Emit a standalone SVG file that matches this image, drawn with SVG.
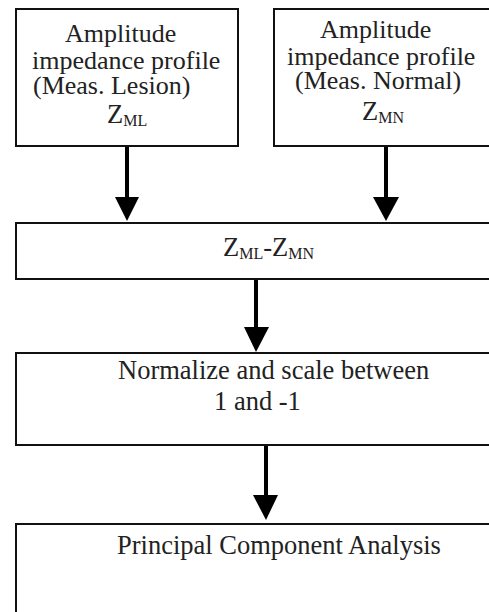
<svg xmlns="http://www.w3.org/2000/svg" width="489" height="612" viewBox="0 0 489 612">
<style>
.box{fill:#fff;stroke:#111;stroke-width:2}
text{font-family:'Liberation Serif','Times New Roman','DejaVu Serif',serif;font-size:26.5px;fill:#222}
.sm{font-size:26px}
.s{font-size:16px}
.ln{stroke:#000;stroke-width:4;fill:none}
.hd{fill:#000}
</style>
<rect width="489" height="612" fill="#fff"/>
<g id="connectors">
<line class="ln" x1="127" y1="146" x2="127" y2="200"/><polygon class="hd" points="115,197 139,197 127,221"/>
<line class="ln" x1="386" y1="146" x2="386" y2="200"/><polygon class="hd" points="373,197 399,197 386,221"/>
<line class="ln" x1="256" y1="279" x2="256" y2="330"/><polygon class="hd" points="244,327 269,327 256,352"/>
<line class="ln" x1="266" y1="445" x2="266" y2="498"/><polygon class="hd" points="253,495 278,495 266,520"/>
</g>
<g id="node1">
<rect class="box" x="16" y="9" width="222" height="137"/>
<text class="sm" x="65" y="42">Amplitude</text>
<text class="sm" x="32" y="69">impedance profile</text>
<text class="sm" x="33" y="94">(Meas. Lesion)</text>
<text x="107" y="123">Z<tspan class="s" dy="3">ML</tspan></text>
</g>
<g id="node2">
<rect class="box" x="274" y="9" width="230" height="137"/>
<text class="sm" x="320" y="38">Amplitude</text>
<text class="sm" x="287" y="65">impedance profile</text>
<text class="sm" x="295" y="89">(Meas. Normal)</text>
<text x="362" y="120">Z<tspan class="s" dy="3">MN</tspan></text>
</g>
<g id="node3">
<rect class="box" x="16" y="223" width="490" height="56"/>
<text x="223" y="256">Z<tspan class="s" dy="3">ML</tspan><tspan dy="-3">-Z</tspan><tspan class="s" dy="3">MN</tspan></text>
</g>
<g id="node4">
<rect class="box" x="16" y="353" width="490" height="92"/>
<text x="118" y="379">Normalize and scale between</text>
<text x="214" y="410">1 and -1</text>
</g>
<g id="node5">
<rect class="box" x="16" y="524" width="490" height="100"/>
<text x="117" y="554">Principal Component Analysis</text>
</g>
</svg>
